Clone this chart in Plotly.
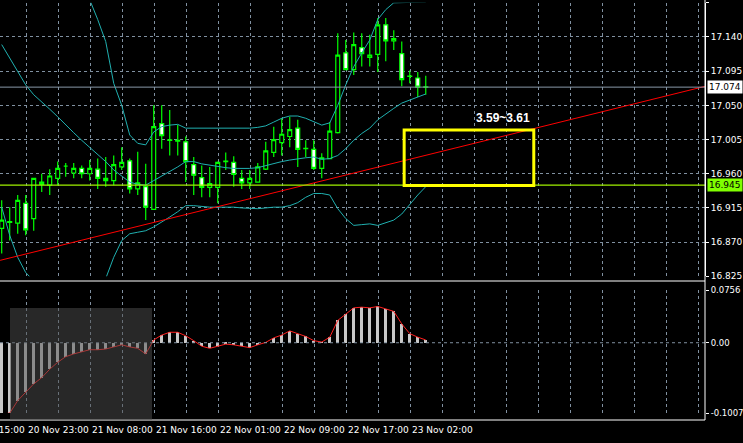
import plotly.graph_objects as go

W, H = 743, 443
open_ = [16.888,16.896,16.895,16.921,16.901,16.949,16.945,16.954,16.970,16.961,16.967,16.960,16.966,16.954,16.951,16.969,16.977,16.940,16.943,16.913,17.026,17.004,17.004,17.002,16.972,16.955,16.942,16.942,16.976,16.975,16.954,16.948,16.949,16.966,16.988,17.001,17.009,17.020,16.993,16.992,16.967,16.980,17.014,17.119,17.097,17.126,17.113,17.117,17.156,17.135,17.118,17.088,17.086,17.074]
high = [16.925,16.916,16.932,16.932,16.954,16.960,16.966,16.976,16.974,16.974,16.971,16.978,16.980,16.982,16.984,16.995,16.980,16.989,16.973,17.050,17.050,17.044,17.024,17.009,16.982,16.971,16.969,16.976,16.988,16.983,16.965,16.965,16.974,17.002,17.022,17.033,17.035,17.031,17.004,17.004,16.987,17.028,17.145,17.136,17.146,17.145,17.143,17.165,17.165,17.149,17.134,17.096,17.094,17.089]
low = [16.855,16.872,16.881,16.879,16.885,16.936,16.932,16.945,16.956,16.954,16.954,16.951,16.940,16.943,16.945,16.965,16.934,16.932,16.899,16.913,16.993,16.984,16.984,16.949,16.932,16.929,16.929,16.921,16.965,16.943,16.940,16.940,16.949,16.965,16.982,16.984,16.995,16.969,16.982,16.965,16.954,16.980,17.013,17.097,17.090,17.101,17.101,17.094,17.108,17.123,17.075,17.079,17.061,17.064]
close = [16.899,16.897,16.925,16.886,16.954,16.946,16.957,16.967,16.970,16.967,16.960,16.967,16.954,16.951,16.972,16.975,16.940,16.948,16.916,17.022,17.010,17.0045,17.003,16.976,16.958,16.942,16.947,16.975,16.9765,16.959,16.948,16.954,16.969,16.990,17.005,17.012,17.018,16.992,16.9935,16.967,16.981,17.016,17.116,17.097,17.130,17.118,17.116,17.156,17.135,17.138,17.084,17.0885,17.074,17.0745]
bb_upper = [17.42,17.40,17.38,17.36,17.34,17.32,17.30,17.28,17.26,17.24,17.215,17.189,17.163,17.134,17.079,17.050,17.011,17.000,16.998,17.015,17.022,17.024,17.025,17.020,17.020,17.020,17.020,17.020,17.020,17.020,17.020,17.020,17.021,17.023,17.028,17.033,17.036,17.036,17.033,17.028,17.024,17.027,17.050,17.077,17.101,17.119,17.136,17.163,17.176,17.185,17.185,17.185,17.185,17.186]
bb_mid = [17.130,17.112,17.094,17.077,17.064,17.055,17.045,17.035,17.024,17.014,17.004,16.995,16.985,16.976,16.965,16.957,16.949,16.946,16.945,16.951,16.957,16.962,16.969,16.976,16.976,16.973,16.971,16.969,16.968,16.967,16.967,16.967,16.968,16.971,16.973,16.976,16.978,16.980,16.981,16.982,16.979,16.980,16.984,16.993,17.004,17.013,17.020,17.031,17.039,17.046,17.053,17.057,17.061,17.065]
bb_lower = [16.916,16.879,16.850,16.830,16.819,16.80,16.78,16.77,16.77,16.78,16.79,16.80,16.81,16.822,16.850,16.872,16.881,16.883,16.885,16.890,16.896,16.903,16.910,16.918,16.918,16.917,16.916,16.916,16.916,16.916,16.915,16.914,16.914,16.915,16.916,16.916,16.918,16.922,16.929,16.934,16.934,16.932,16.914,16.901,16.892,16.893,16.894,16.892,16.895,16.899,16.907,16.920,16.932,16.943]
osma = [-0.102,-0.101,-0.083,-0.071,-0.059,-0.050,-0.038,-0.028,-0.020,-0.016,-0.013,-0.010,-0.010,-0.009,-0.006,-0.003,-0.006,-0.008,-0.016,0.004,0.011,0.015,0.015,0.010,0.003,-0.005,-0.008,-0.005,-0.002,-0.003,-0.005,-0.007,-0.003,0.0005,0.007,0.011,0.017,0.013,0.009,0.003,0.001,0.008,0.032,0.041,0.050,0.051,0.050,0.052,0.048,0.045,0.027,0.013,0.008,0.004]
signal = list(osma)
price_ticks = [17.185,17.140,17.095,17.050,17.005,16.960,16.915,16.870,16.825]
macd_ticks = [0.0756,0.0,-0.1007]
macd_tick_text = ["0.0756","0.00","-0.1007"]
time_labels = ["20 Nov 15:00","20 Nov 23:00","21 Nov 08:00","21 Nov 16:00","22 Nov 01:00","22 Nov 09:00","22 Nov 17:00","23 Nov 02:00"]
time_label_idx = [-5,3,11,19,27,35,43,51]
trend_x = [-0.2, 87.9]
trend_y = [16.846, 17.075]
last_price = 17.074
level_price = 16.945
box_x = [50.3, 66.5]
box_y = [16.9445, 17.0175]
box_text = "3.59~3.61"

idx = list(range(len(open_)))
xr = [-0.2125, 87.9]
grid = "#8090a0"
cyan = "#20b0b0"
FONT = "DejaVu Sans"
fig = go.Figure()
fig.add_trace(go.Candlestick(x=idx, open=open_, high=high, low=low, close=close,
    increasing=dict(line=dict(color="#00ff00", width=1.2), fillcolor="#000000"),
    decreasing=dict(line=dict(color="#00ff00", width=1.2), fillcolor="#ffffff"),
    whiskerwidth=0, xaxis="x", yaxis="y", hoverinfo="skip"))
for b in (bb_upper, bb_mid, bb_lower):
    fig.add_trace(go.Scatter(x=idx, y=b, mode="lines", line=dict(color=cyan, width=1), xaxis="x", yaxis="y"))
fig.add_trace(go.Scatter(x=trend_x, y=trend_y, mode="lines", line=dict(color="#ff0000", width=1), xaxis="x", yaxis="y"))
fig.add_trace(go.Scatter(x=xr, y=[last_price]*2, mode="lines", line=dict(color="#8898a8", width=1), xaxis="x", yaxis="y"))
fig.add_trace(go.Scatter(x=xr, y=[level_price]*2, mode="lines", line=dict(color="#a0f000", width=1.3), xaxis="x", yaxis="y"))
fig.add_trace(go.Bar(x=idx, y=osma, width=0.4, marker=dict(color="#c8c8c8", line=dict(width=0)), xaxis="x2", yaxis="y2"))
fig.add_trace(go.Scatter(x=idx, y=signal, mode="lines", line=dict(color="#ff2020", width=1), xaxis="x2", yaxis="y2"))

dom_x = [0, 705/W]
fig.update_layout(
    width=W, height=H, margin=dict(l=0, r=0, t=0, b=0),
    paper_bgcolor="#000000", plot_bgcolor="#000000", showlegend=False,
    font=dict(family=FONT, size=9, color="white"),
    xaxis=dict(domain=dom_x, range=xr, showticklabels=False, tick0=3.125, dtick=4, gridcolor=grid,
               griddash="dot", gridwidth=1, zeroline=False, rangeslider=dict(visible=False), anchor="y", automargin=False),
    yaxis=dict(domain=[1-276.3/H, 1-2.8/H], range=[16.825, 17.185], side="right", tickvals=price_ticks,
               ticktext=[f"{v:.3f}" for v in price_ticks], gridcolor=grid, griddash="dot", zeroline=False,
               ticks="outside", ticklen=3, tickcolor="white", showline=True, linecolor="white", anchor="x", automargin=False),
    xaxis2=dict(domain=dom_x, range=xr, showticklabels=False, tick0=3.125, dtick=4, gridcolor=grid,
                griddash="dot", zeroline=False, anchor="y2", automargin=False),
    yaxis2=dict(domain=[1-413/H, 1-290/H], range=[-0.1007, 0.0756], side="right", tickvals=macd_ticks,
                ticktext=macd_tick_text, showgrid=False, zeroline=False, tickfont=dict(size=8.5),
                ticks="outside", ticklen=3, tickcolor="white", anchor="x2", automargin=False),
    bargap=0,
)
fig.add_shape(type="line", xref="x2", yref="y2", x0=xr[0], x1=xr[1], y0=0, y1=0, line=dict(color=grid, dash="dot", width=1))
for y in (281, 420):
    fig.add_shape(type="line", xref="paper", yref="paper", x0=0, x1=705/W, y0=1-y/H, y1=1-y/H, line=dict(color="white", width=1))
fig.add_shape(type="line", xref="paper", yref="paper", x0=705/W, x1=705/W, y0=1-420/H, y1=1, line=dict(color="white", width=1))
fig.add_shape(type="rect", xref="x", yref="y", x0=box_x[0], x1=box_x[1], y0=box_y[0], y1=box_y[1],
              line=dict(color="#ffff00", width=3))
fig.add_shape(type="rect", xref="paper", yref="paper", x0=10/W, x1=152/W, y0=1-420/H, y1=1-308/H,
              fillcolor="#505050", opacity=0.5, line=dict(width=0))
fig.add_annotation(x=62.7, y=17.034, xref="x", yref="y", text=f"<b>{box_text}</b>", showarrow=False,
                   font=dict(family="Liberation Sans", size=12, color="white"))
for v, bg in ((last_price, "#ffffff"), (level_price, "#80ff00")):
    fig.add_annotation(x=707/W, y=v, xref="paper", yref="y", text=f"{v:.3f}", showarrow=False, xanchor="left",
                       bgcolor=bg, font=dict(color="black", size=9, family=FONT), borderpad=1)
for t, i in zip(time_labels, time_label_idx):
    px = 1.7 + 8*i
    fig.add_annotation(x=px/W, y=1-430/H, xref="paper", yref="paper", text=t, showarrow=False, xanchor="left",
                       yanchor="middle", font=dict(color="white", size=9))
fig.write_html("out.html", config={"displayModeBar": False},
               post_script="document.body.style.margin='0';document.body.style.background='#000';")
